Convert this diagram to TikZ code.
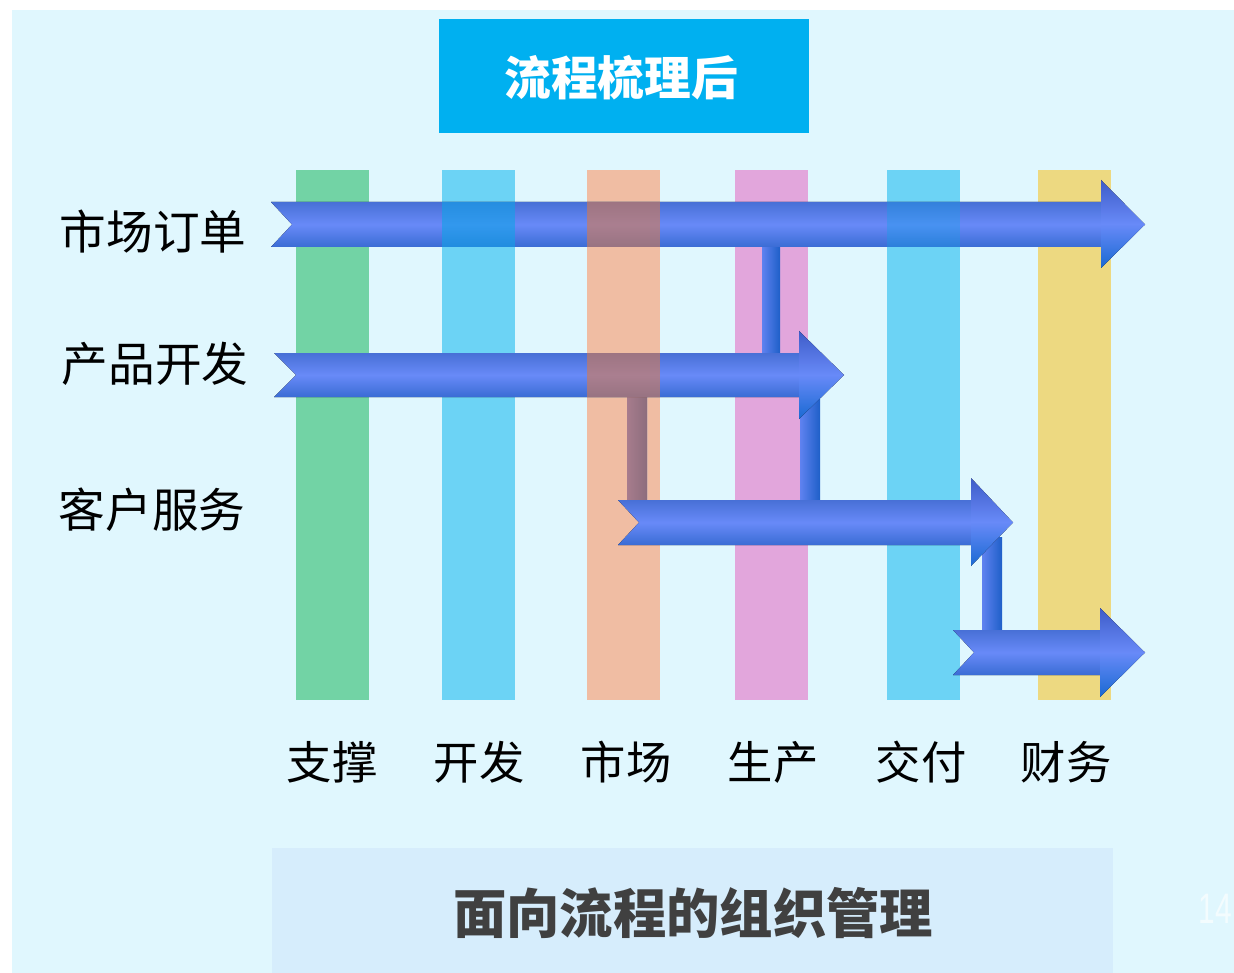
\documentclass[tikz,border=0pt]{standalone}
\usepackage{fontspec}
\newfontfamily\cjk{Noto Sans CJK SC}
\newfontfamily\pagefont{Liberation Sans}
\usetikzlibrary{positioning}

\definecolor{bgcyan}{RGB}{224,247,254}
\definecolor{footbox}{RGB}{214,237,252}
\definecolor{titlebox}{RGB}{0,176,240}
\definecolor{lanegreen}{RGB}{114,211,165}
\definecolor{laneblue}{RGB}{108,211,245}
\definecolor{laneorange}{RGB}{240,189,163}
\definecolor{lanepink}{RGB}{226,166,220}
\definecolor{laneyellow}{RGB}{237,217,129}
\definecolor{arrtop}{RGB}{72,112,214}
\definecolor{arrmid}{RGB}{104,138,248}
\definecolor{arrbot}{RGB}{58,108,212}
\definecolor{headtop}{RGB}{62,92,200}
\definecolor{headbot}{RGB}{25,105,210}
\definecolor{mktover}{RGB}{215,120,75}
\definecolor{devover}{RGB}{15,162,231}
\definecolor{linkl}{RGB}{95,130,240}
\definecolor{linkr}{RGB}{30,95,200}
\definecolor{foottext}{RGB}{64,64,64}

\tikzset{
  shaft/.style={top color=arrtop, bottom color=arrbot, middle color=arrmid},
  arrhead/.style={top color=headtop, bottom color=headbot, middle color=arrmid},
  link/.style={left color=linkl, right color=linkr},
  rowlabel/.style={font=\cjk\fontsize{35}{40}\selectfont, text=black, inner sep=0pt},
  collabel/.style={font=\cjk\fontsize{34}{40}\selectfont, text=black, inner sep=0pt},
}

\begin{document}
\begin{tikzpicture}[x=0.75pt,y=0.75pt,yscale=-1,xscale=1]
\useasboundingbox (0,0) rectangle (1234,973);

% background and boxes
\fill[bgcyan] (12,10) rectangle (1234,973);
\fill[titlebox] (439,19) rectangle (809,133);
\fill[footbox] (272,848) rectangle (1113,973);

% lanes
\foreach \x/\c/\lx/\t [count=\i] in {296/lanegreen/332/支撑, 442/laneblue/479/开发, 587/laneorange/626/市场, 735/lanepink/773/生产, 887/laneblue/921/交付, 1038/laneyellow/1066/财务}
{
  \fill[\c] (\x,170) rectangle ++(73,530);
  \node[collabel] (lane\i) at (\lx,762) {\t};
}

% links between flows
\coordinate (l1a) at (762,240); \coordinate (l1b) at (780,360);
\coordinate (l2a) at (627,390); \coordinate (l2b) at (647,507);
\coordinate (l3a) at (800,390); \coordinate (l3b) at (820,507);
\coordinate (l4a) at (982,537); \coordinate (l4b) at (1002,637);
\fill[link] (l1a) rectangle (l1b);
\fill[link] (l2a) rectangle (l2b);
\fill[link] (l3a) rectangle (l3b);
\fill[link] (l4a) rectangle (l4b);

% flow 1: market order
\fill[shaft] (271,202) -- (1102,202) -- (1102,247) -- (271,247) -- (292,224.5) -- cycle;
\fill[arrhead] (1101,180) -- (1145,224.5) -- (1101,268) -- cycle;
% flow 2: product development
\fill[shaft] (274,353) -- (800,353) -- (800,397) -- (274,397) -- (296,375) -- cycle;
\fill[arrhead] (799,331) -- (844,375) -- (799,419) -- cycle;
% flow 3: customer service
\fill[shaft] (618,500) -- (972,500) -- (972,545) -- (618,545) -- (639,522.5) -- cycle;
\fill[arrhead] (971,478) -- (1013,522.5) -- (971,566) -- cycle;
% flow 4
\fill[shaft] (953,630) -- (1101,630) -- (1101,675) -- (953,675) -- (974,652.5) -- cycle;
\fill[arrhead] (1100,608) -- (1145,652.5) -- (1100,697) -- cycle;

% lanes seen through the flows
\fill[devover, opacity=0.6] (442,202) rectangle (515,247);
\fill[devover, opacity=0.35] (887,202) rectangle (960,247);
\fill[mktover, opacity=0.6] (587,202) rectangle (660,247);
\fill[mktover, opacity=0.6] (587,353) rectangle (660,397);
\fill[mktover, opacity=0.6] (627,397) rectangle (647,500);

% row labels
\node[rowlabel] (order) at (153,232) {市场订单};
\node[rowlabel] (develop) at (155,364) {产品开发};
\node[rowlabel] (service) at (152,510) {客户服务};

% titles
\node[font=\cjk\bfseries\fontsize{35}{40}\selectfont, text=white, inner sep=0pt] (title) at (621,78) {流程梳理后};
\node[font=\cjk\bfseries\fontsize{40}{46}\selectfont, text=foottext, inner sep=0pt] (footer) at (693,913) {面向流程的组织管理};
\node[font=\pagefont\fontsize{32}{36}\selectfont, text=white!60!bgcyan, inner sep=0pt, xscale=0.7] (pageno) at (1215,909) {14};

\end{tikzpicture}
\end{document}
